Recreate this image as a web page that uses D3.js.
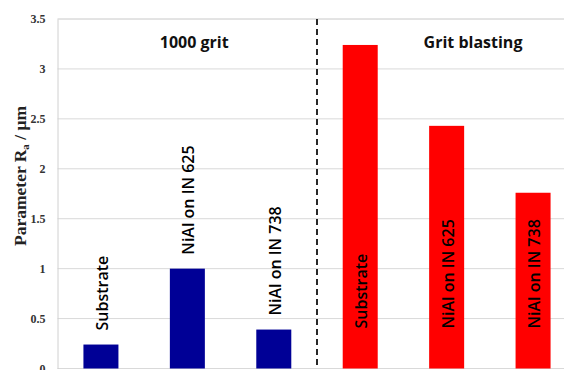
<!DOCTYPE html>
<html><head><meta charset="utf-8">
<script src="https://cdn.jsdelivr.net/npm/d3@7"></script>
<style>body{margin:0;background:#fff}svg{display:block}</style>
</head><body><svg id="c" width="564" height="370"></svg>
<script>
const categories = ["Substrate","NiAl on IN 625","NiAl on IN 738","Substrate ","NiAl on IN 625 ","NiAl on IN 738 "];
const groups = ["1000 grit","1000 grit","1000 grit","Grit blasting","Grit blasting","Grit blasting"];
const values = [0.24, 1.00, 0.39, 3.24, 2.43, 1.76];
const groupTitles = ["1000 grit","Grit blasting"];
const yTicks = [0,0.5,1,1.5,2,2.5,3,3.5];
const yTickLabels = ["0","0.5","1","1.5","2","2.5","3","3.5"];

const svg = d3.select("#c");
const mLeft = 57.5, mRight = 576.5, mTop = 19, mBottom = 368.5;
const x = d3.scaleBand().domain(categories).range([mLeft, mRight]).paddingInner(0.595).paddingOuter(0.3);
const y = d3.scaleLinear().domain([0,3.5]).range([mBottom, mTop]);
const color = g => g === "1000 grit" ? "#000096" : "#ff0000";

// gridlines
svg.append("g").selectAll("line").data(yTicks).join("line")
  .attr("x1", mLeft).attr("x2", mRight).attr("y1", d=>y(d)).attr("y2", d=>y(d))
  .attr("stroke", d=> d===3.5 ? "#c8c8c8" : "#d9d9d9").attr("stroke-width", 1);

// left axis
const yAxis = d3.axisLeft(y).tickValues(yTicks).tickFormat((d,i)=>yTickLabels[i]).tickSize(0).tickPadding(12);
const ga = svg.append("g").attr("transform", `translate(${mLeft},0)`).call(yAxis);
ga.select(".domain").attr("stroke", "#d0d0d0");
ga.selectAll("text").attr("font-family","'Liberation Serif', serif").attr("font-weight","bold")
  .attr("font-size","12px").attr("fill","#333");

// bars
svg.append("g").selectAll("rect").data(values).join("rect")
  .attr("x", (d,i)=>x(categories[i])).attr("width", x.bandwidth())
  .attr("y", d=>y(d)).attr("height", d=>y(0)-y(d))
  .attr("fill", (d,i)=>color(groups[i]));

// dashed separator
const sepX = (x(categories[2]) + x.bandwidth() + x(categories[3]))/2;
svg.append("line").attr("x1", sepX).attr("x2", sepX).attr("y1", mTop).attr("y2", mBottom)
  .attr("stroke","#111").attr("stroke-width",1.8).attr("stroke-dasharray","6,4");

// bar labels
svg.append("g").selectAll("text").data(values).join("text")
  .attr("transform", (d,i)=>{
    const cx = x(categories[i]) + x.bandwidth()/2 + 7;
    const yy = groups[i]==="1000 grit" ? y(d) - 14 : y(0) - 40;
    return `translate(${cx},${yy}) rotate(-90)`;
  })
  .attr("font-family","'Open Sans', sans-serif").attr("font-weight","600").attr("font-size","16px")
  .attr("fill","#000").text((d,i)=>categories[i].trim());

// group titles
const gx = [ (mLeft + sepX)/2 + 7, 473 ];
svg.append("g").selectAll("text").data(groupTitles).join("text")
  .attr("x",(d,i)=>gx[i]).attr("y",48).attr("text-anchor","middle")
  .attr("font-family","'Open Sans', sans-serif").attr("font-weight","bold").attr("font-size","16px")
  .attr("fill","#111").text(d=>d);

// y label
const yl = svg.append("text").attr("transform","translate(26,176) rotate(-90)").attr("text-anchor","middle")
  .attr("font-family","'Liberation Serif', serif").attr("font-weight","bold").attr("font-size","17.5px").attr("fill","#222");
yl.append("tspan").text("Parameter R");
yl.append("tspan").attr("font-size","11px").attr("dy","3").text("a");
yl.append("tspan").attr("dy","-3").text(" / μm");
</script></body></html>
